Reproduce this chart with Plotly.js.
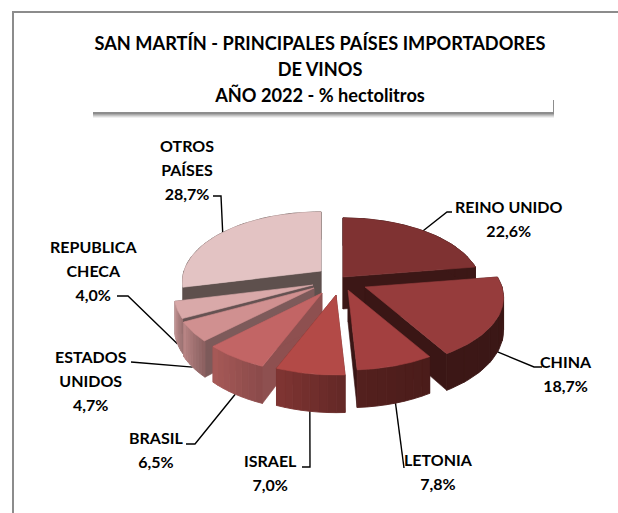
<!DOCTYPE html>
<html><head><meta charset="utf-8">
<script src="https://cdn.plot.ly/plotly-3.0.1.min.js"></script>
<style>html,body{margin:0;padding:0;background:#fff}#c{width:618px;height:513px}</style>
</head><body><div id="c"></div>
<script>
// ---- data ----
const categories = ['REINO UNIDO','CHINA','LETONIA','ISRAEL','BRASIL','ESTADOS UNIDOS','REPUBLICA CHECA','OTROS PAÍSES'];
const shares = [22.6,18.7,7.8,7.0,6.5,4.7,4.0,28.7];
const labelLines = [['REINO UNIDO'],['CHINA'],['LETONIA'],['ISRAEL'],['BRASIL'],['ESTADOS','UNIDOS'],['REPUBLICA','CHECA'],['OTROS','PAÍSES']];
const titleLines = ['SAN MARTÍN - PRINCIPALES PAÍSES IMPORTADORES','DE VINOS','AÑO 2022 - % hectolitros'];

// ---- styling ----
const topColors  = ['#7f3232','#963c3c','#a34040','#b34a47','#c26565','#d09090','#d9a9a9','#e3c3c3'];
const faceColors = ['#3c1716','#3a1615','#3a1615','#6a2b29','#8e5050','#7d5a5a','#655252','#5e504d'];
const wallStart  = ['#3c1716','#3a1615','#4a1c1a','#632826','#8a4a4a','#8a6060','#9a7070','#5e504d'];
const wallEnd    = ['#3c1716','#3c1716','#54201e','#803533','#a85a58','#bb8787','#c29595','#5e504d'];
const apexX = [343,365,348,336,322,314,313,321];
const apexY = [277,287,290,295,293,288,285,271];
const drawOrder = [7,0,6,5,4,1,2,3];
const labelX = [508,566,438,270,156,91,93,187];
const labelY = [218,373,471,472,449,380,270,169];
const elbows = [[[447,212],[452,212]],[[534,367],[542,367]],[[404,468]],[[310,467],[302,467]],
                [[195,444],[186,444]],[[131,362]],[[128,296],[117,296]],[[221,196],[213,196]]];
const RX=137, RY=68, PERSP=0.15, DEPTH=32, STEPS=40, WALL_BANDS=8;

const hex=c=>[1,3,5].map(i=>parseInt(c.substr(i,2),16));
const mix=(a,b,t)=>{const A=hex(a),B=hex(b);return 'rgb('+A.map((v,i)=>Math.round(v+(B[i]-v)*t)).join(',')+')';};
const rim=(i,a,down)=>{const X=Math.sin(a),Z=-Math.cos(a),s=1/(1-PERSP*Z);
  return [apexX[i]+RX*X*s, apexY[i]+RY*Z*s+(down?DEPTH*s:0)];};
const D2R=Math.PI/180;
const total=shares.reduce((p,c)=>p+c,0);
let acc=0; const a0=[],a1=[];
shares.forEach(v=>{a0.push(acc/total*360*D2R);acc+=v;a1.push(acc/total*360*D2R);});

const traces=[];
const poly=(pts,color,name,w)=>traces.push({type:'scatter',mode:'lines',x:pts.map(p=>p[0]).concat(pts[0][0]),y:pts.map(p=>p[1]).concat(pts[0][1]),
  fill:'toself',fillcolor:color,line:{color:color,width:w||0.6},hoverinfo:'text',text:name,showlegend:false});

// leader lines
shares.forEach((v,i)=>{
  const mid=(a0[i]+a1[i])/2, front=Math.cos(mid)<0;
  const p=rim(i,mid,front);
  const pts=[p].concat(elbows[i]);
  traces.push({type:'scatter',mode:'lines',x:pts.map(q=>q[0]),y:pts.map(q=>q[1]),line:{color:'#000',width:1.4},hoverinfo:'skip',showlegend:false});
});

// slices
drawOrder.forEach(i=>{
  const nm=categories[i];
  [a0[i],a1[i]].forEach(a=>{
    poly([[apexX[i],apexY[i]],rim(i,a,false),rim(i,a,true),[apexX[i],apexY[i]+DEPTH]],faceColors[i],nm);
  });
  for(let b=0;b<WALL_BANDS;b++){
    const p=[],q=[];
    const lo=a0[i]+(a1[i]-a0[i])*b/WALL_BANDS, hi=a0[i]+(a1[i]-a0[i])*(b+1)/WALL_BANDS;
    for(let k=0;k<=4;k++){const a=lo+(hi-lo)*k/4;p.push(rim(i,a,false));q.unshift(rim(i,a,true));}
    poly(p.concat(q),mix(wallStart[i],wallEnd[i],(b+.5)/WALL_BANDS),nm,0.9);
  }
  const top=[[apexX[i],apexY[i]]];
  for(let k=0;k<=STEPS;k++)top.push(rim(i,a0[i]+(a1[i]-a0[i])*k/STEPS,false));
  poly(top,topColors[i],nm);
});

const pct=v=>v.toFixed(1).replace('.',',')+'%';
const lab=t=>'<span style="font-size:16px">'+t+'</span>';
const annotations=shares.map((v,i)=>({xref:'x',yref:'y',x:labelX[i],y:labelY[i],xanchor:'center',yanchor:'middle',showarrow:false,align:'center',
  text:labelLines[i].concat(pct(v)).map(lab).join('<br>'),
  font:{family:'Lato, "Open Sans", sans-serif',size:18.5,color:'#000',weight:700}}));

const shapes=[
 {type:'line',xref:'x',yref:'y',x0:13,x1:13,y0:11,y1:513,line:{color:'#8c8c8c',width:2}},
 {type:'line',xref:'x',yref:'y',x0:12,x1:618,y0:12,y1:12,line:{color:'#8c8c8c',width:2}}
];
[[6,.08],[5,.12],[4,.16],[3,.2],[2,.28]].forEach(s=>shapes.push({type:'rect',xref:'x',yref:'y',x0:93,x1:554,y0:100,y1:112+s[0],line:{width:0},fillcolor:'rgba(70,70,70,'+s[1]+')',layer:'below'}));
shapes.push({type:'rect',xref:'x',yref:'y',x0:91,x1:553,y0:26,y1:112,line:{width:0},fillcolor:'#fff',layer:'below'});

const layout={width:618,height:513,margin:{l:0,r:0,t:0,b:0},paper_bgcolor:'#fff',plot_bgcolor:'#fff',showlegend:false,
 xaxis:{range:[0,618],visible:false,fixedrange:true},yaxis:{range:[513,0],visible:false,fixedrange:true},
 title:{text:titleLines.map(t=>'<span style="font-size:18.2px">'+t+'</span>').join('<br>'),font:{family:'Lato, "Open Sans", sans-serif',size:20,color:'#000',weight:700},
   x:320/618,xanchor:'center',y:1-50/513,yanchor:'middle'},
 shapes,annotations};
Plotly.newPlot('c',traces,layout,{displayModeBar:false,staticPlot:true});
</script></body></html>
